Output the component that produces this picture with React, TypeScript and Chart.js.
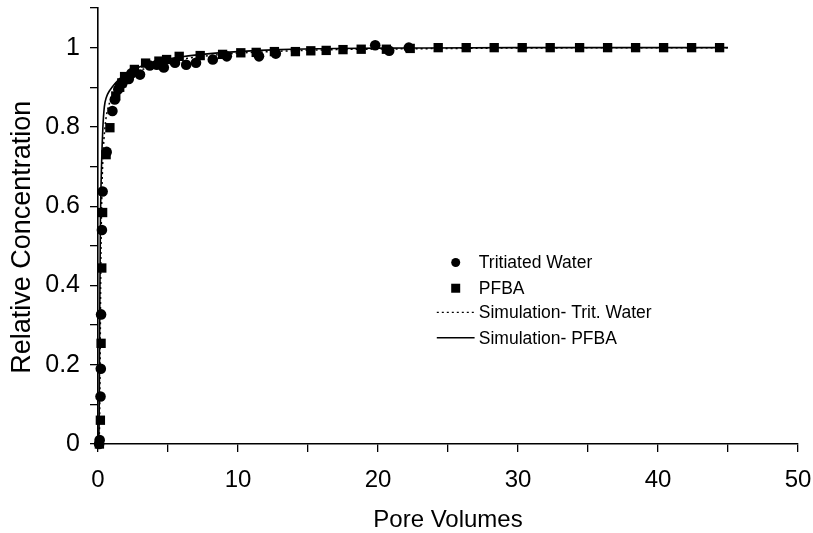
import React, { useEffect, useRef } from "react";
import { Chart, registerables } from "chart.js";

Chart.register(...registerables);

// Measured data: Tritiated Water (circles)
const tritPoreVolumes = [0.08, 0.12, 0.18, 0.2, 0.22, 0.28, 0.33, 0.62, 1.03, 1.2, 1.45, 1.75, 2.2, 2.38, 3.0, 3.7, 4.2, 4.7, 5.5, 6.3, 7.0, 8.2, 9.2, 11.5, 12.7, 19.8, 20.8, 22.2];
const tritConc = [0, 0.01, 0.12, 0.19, 0.327, 0.54, 0.637, 0.737, 0.84, 0.869, 0.895, 0.91, 0.921, 0.935, 0.932, 0.955, 0.957, 0.95, 0.962, 0.957, 0.962, 0.97, 0.978, 0.978, 0.985, 1.006, 0.992, 1.0];

// Measured data: PFBA (squares)
const pfbaPoreVolumes = [0.1, 0.17, 0.22, 0.27, 0.33, 0.58, 0.85, 1.27, 1.55, 1.7, 1.9, 2.6, 3.4, 4.35, 4.9, 5.8, 7.3, 8.9, 10.2, 11.3, 12.6, 14.1, 15.2, 16.3, 17.5, 18.8, 20.6, 22.3, 24.3, 26.3, 28.3, 30.3, 32.3, 34.4, 36.4, 38.4, 40.4, 42.4, 44.4];
const pfbaConc = [0, 0.06, 0.254, 0.444, 0.584, 0.73, 0.798, 0.878, 0.9, 0.911, 0.927, 0.945, 0.961, 0.966, 0.97, 0.978, 0.98, 0.983, 0.987, 0.988, 0.99, 0.99, 0.992, 0.993, 0.995, 0.996, 0.996, 0.998, 1.0, 1.0, 1.0, 1.0, 1.0, 1.0, 1.0, 1.0, 1.0, 1.0, 1.0];

// Simulation curves
const simTritPoreVolumes = [0, 0.1, 0.15, 0.2, 0.27, 0.35, 0.5, 0.7, 1.0, 1.5, 2, 3, 4, 5, 6, 8, 10, 13, 17, 22, 30, 45];
const simTritConc = [0, 0.03, 0.2, 0.45, 0.62, 0.72, 0.8, 0.845, 0.875, 0.9, 0.92, 0.942, 0.955, 0.964, 0.971, 0.98, 0.986, 0.991, 0.995, 0.997, 0.999, 1.0];
const simPfbaPoreVolumes = [0, 0.08, 0.12, 0.17, 0.25, 0.35, 0.45, 0.6, 0.8, 1.0, 1.5, 2, 3, 4, 5, 6, 8, 10, 13, 17, 22, 30, 45];
const simPfbaConc = [0, 0.05, 0.3, 0.55, 0.7, 0.8, 0.85, 0.875, 0.89, 0.9, 0.92, 0.935, 0.952, 0.963, 0.971, 0.977, 0.985, 0.99, 0.995, 0.998, 0.999, 1.0, 1.0];

// Tick labels
const xLabelValues = [0, 10, 20, 30, 40, 50];
const yLabelValues = [0, 0.2, 0.4, 0.6, 0.8, 1];

const FONT = "'Liberation Sans', Arial, Helvetica, sans-serif";

const toPoints = (xs: number[], ys: number[]) => xs.map((x, i) => ({ x, y: ys[i] }));

const legendPlugin = {
  id: "insetLegend",
  afterDraw(chart: any) {
    const ctx = chart.ctx as CanvasRenderingContext2D;
    const xScale = chart.scales.x;
    const yScale = chart.scales.y;
    const sampleCenter = xScale.getPixelForValue(25.55);
    const sampleHalf = (xScale.getPixelForValue(26.9) - xScale.getPixelForValue(24.2)) / 2;
    const textX = xScale.getPixelForValue(27.2);
    const rowY = [0.458, 0.393, 0.332, 0.268].map((v) => yScale.getPixelForValue(v));
    const items = [
      { kind: "circle", label: chart.data.datasets[2].label },
      { kind: "rect", label: chart.data.datasets[3].label },
      { kind: "dash", label: chart.data.datasets[1].label },
      { kind: "line", label: chart.data.datasets[0].label },
    ];
    ctx.save();
    ctx.fillStyle = "#000";
    ctx.strokeStyle = "#000";
    ctx.font = `17.5px ${FONT}`;
    ctx.textBaseline = "middle";
    ctx.textAlign = "left";
    items.forEach((it, i) => {
      const y = rowY[i];
      if (it.kind === "circle") {
        ctx.beginPath();
        ctx.arc(sampleCenter, y, 4.5, 0, Math.PI * 2);
        ctx.fill();
      } else if (it.kind === "rect") {
        ctx.fillRect(sampleCenter - 4.5, y - 4.5, 9, 9);
      } else {
        ctx.beginPath();
        ctx.lineWidth = 1.4;
        ctx.setLineDash(it.kind === "dash" ? [2, 3] : []);
        ctx.moveTo(sampleCenter - sampleHalf, y);
        ctx.lineTo(sampleCenter + sampleHalf, y);
        ctx.stroke();
        ctx.setLineDash([]);
      }
      ctx.fillText(it.label, textX, y + 1);
    });
    ctx.restore();
  },
};

const zeroPadding = (s: any) => {
  s.paddingLeft = 0;
  s.paddingRight = 0;
  s.paddingTop = 0;
  s.paddingBottom = 0;
};

export default function App() {
  const ref = useRef<HTMLCanvasElement>(null);
  useEffect(() => {
    const canvas = ref.current!;
    const chart = new Chart(canvas, {
      type: "scatter",
      data: {
        datasets: [
          {
            label: "Simulation- PFBA",
            data: toPoints(simPfbaPoreVolumes, simPfbaConc),
            showLine: true,
            borderColor: "#000",
            borderWidth: 1.6,
            pointRadius: 0,
            cubicInterpolationMode: "monotone",
          } as any,
          {
            label: "Simulation- Trit. Water",
            data: toPoints(simTritPoreVolumes, simTritConc),
            showLine: true,
            borderColor: "#000",
            borderWidth: 1.5,
            borderDash: [2, 3],
            pointRadius: 0,
            cubicInterpolationMode: "monotone",
          } as any,
          {
            label: "Tritiated Water",
            data: toPoints(tritPoreVolumes, tritConc),
            pointStyle: "circle",
            pointRadius: 5.3,
            backgroundColor: "#000",
            borderColor: "#000",
            borderWidth: 0,
            clip: false,
          } as any,
          {
            label: "PFBA",
            data: toPoints(pfbaPoreVolumes, pfbaConc),
            pointStyle: "rect",
            pointRadius: 6.6,
            backgroundColor: "#000",
            borderColor: "#000",
            borderWidth: 0,
            clip: false,
          } as any,
        ],
      },
      options: {
        responsive: false,
        animation: false,
        events: [],
        layout: { padding: { left: 0, right: 15, top: 8, bottom: 0 } },
        plugins: { legend: { display: false }, tooltip: { enabled: false } },
        scales: {
          x: {
            type: "linear",
            position: "bottom",
            min: 0,
            max: 50,
            ticks: {
              stepSize: 5,
              autoSkip: false,
              maxRotation: 0,
              padding: 14,
              color: "#000",
              font: { family: FONT, size: 24 },
              callback: (v: any) => (xLabelValues.includes(Number(v)) ? String(v) : ""),
            },
            grid: { display: true, drawOnChartArea: false, drawTicks: true, tickLength: 8, color: "#000", lineWidth: 1.3 },
            border: { display: true, color: "#000", width: 1.6 },
            title: {
              display: true,
              text: "Pore Volumes",
              color: "#000",
              font: { family: FONT, size: 24, lineHeight: 1 },
              padding: { top: 0, bottom: 1 },
            },
            afterFit: (s: any) => {
              s.height = 89;
              zeroPadding(s);
            },
          },
          y: {
            type: "linear",
            position: "left",
            min: 0,
            max: 1.1,
            ticks: {
              stepSize: 0.1,
              autoSkip: false,
              padding: 10,
              color: "#000",
              font: { family: FONT, size: 25 },
              callback: (v: any) => {
                const n = Math.round(Number(v) * 10) / 10;
                return yLabelValues.some((l) => Math.abs(l - n) < 1e-6) ? String(n) : "";
              },
            },
            grid: { display: true, drawOnChartArea: false, drawTicks: true, tickLength: 8, color: "#000", lineWidth: 1.3 },
            border: { display: true, color: "#000", width: 1.6 },
            title: {
              display: true,
              text: "Relative Concentration   ",
              color: "#000",
              font: { family: FONT, size: 27, lineHeight: 1 },
              padding: { top: 9, bottom: 0 },
            },
            afterFit: (s: any) => {
              s.width = 98;
              zeroPadding(s);
            },
          },
        },
      },
      plugins: [legendPlugin],
    });
    return () => chart.destroy();
  }, []);
  return (
    <div style={{ position: "fixed", left: 0, top: 0, width: 813, height: 533, background: "#fff" }}>
      <canvas ref={ref} width={813} height={533} style={{ display: "block" }} />
    </div>
  );
}
